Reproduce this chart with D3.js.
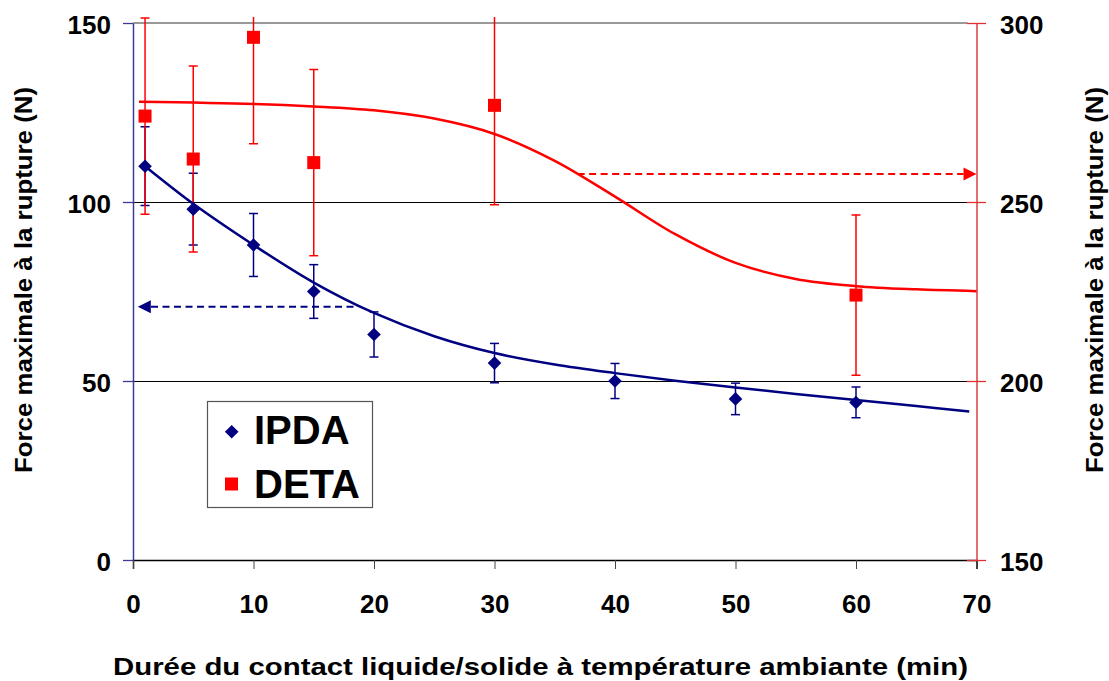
<!DOCTYPE html>
<html>
<head>
<meta charset="utf-8">
<script src="https://cdn.jsdelivr.net/npm/d3@7"></script>
<style>
  html, body { margin: 0; padding: 0; background: #fff; }
  svg { display: block; }
  text { font-family: "Liberation Sans", Arial, Helvetica, sans-serif; font-weight: bold; fill: #000; }
</style>
</head>
<body>
<div id="chart"></div>
<script>
// ---------- data ----------
const xTicks = [0, 10, 20, 30, 40, 50, 60, 70];
const leftTicks = [0, 50, 100, 150];
const rightTicks = [150, 200, 250, 300];

const ipdaX = [1, 5, 10, 15, 20, 30, 40, 50, 60];
const ipdaY = [110, 98, 88, 75, 63, 55, 50, 45, 44];
const ipdaErr = [11, 10, 8.8, 7.5, 6.3, 5.5, 4.9, 4.4, 4.3];

const detaX = [1, 5, 10, 15, 30, 60];
const detaY = [274, 262, 296, 261, 277, 224];
const detaErr = [27.4, 26, 29.7, 26, 27.8, 22.4];

// trend curves
const ipdaTrendX = [1, 5, 10, 15, 20, 25, 30, 35, 40, 45, 50, 55, 60, 65, 69.4];
const ipdaTrendY = [110, 99.5, 88, 77.5, 69, 62.5, 57.8, 54.6, 52.2, 50.1, 48.2, 46.4, 44.7, 43, 41.5];
const detaTrendX = [0.5, 10, 15, 20, 25, 30, 35, 40, 45, 50, 55, 60, 65, 70];
const detaTrendY = [278, 277.4, 276.7, 275.6, 273.3, 269, 261.5, 251.5, 241, 233, 228.5, 226.5, 225.6, 225.1];

// dashed arrows [x start, x tip], value
const ipdaArrowX = [18.3, 0.4];
const ipdaArrowY = 70.75;
const detaArrowX = [36.9, 70];
const detaArrowY = 257.8;

const seriesNames = ["IPDA", "DETA"];
const xTitle = "Durée du contact liquide/solide à température ambiante (min)";
const yTitle = "Force maximale à la rupture (N)";

// ---------- layout ----------
const W = 1109, H = 681;
const X0 = 133, X1 = 976.5, YT = 23, YB = 560;
const navy = "#000080", red = "#ff0000";

const svg = d3.select("#chart").append("svg").attr("width", W).attr("height", H);

const x = d3.scaleLinear().domain([0, 70]).range([X0, X1]);
const yL = d3.scaleLinear().domain([0, 150]).range([YB, YT]);
const yR = d3.scaleLinear().domain([150, 300]).range([YB, YT]);

svg.append("defs").append("clipPath").attr("id", "clip")
  .append("rect").attr("x", X0 - 10).attr("y", 17).attr("width", X1 - X0 + 20).attr("height", YB - 17 + 10);

// gridlines
const grid = svg.append("g");
grid.selectAll("line").data(leftTicks.filter(d => d > 0 && d < 150)).join("line")
  .attr("x1", X0).attr("x2", X1).attr("y1", d => yL(d) + 0.5).attr("y2", d => yL(d) + 0.5)
  .attr("stroke", "#000").attr("stroke-width", 1).attr("shape-rendering", "crispEdges");
grid.append("line").attr("x1", X0).attr("x2", X1 - 9).attr("y1", yL(150)).attr("y2", yL(150))
  .attr("stroke", "#999").attr("stroke-width", 2);

// x axis
const xAxis = svg.append("g").attr("transform", `translate(0,${YB})`)
  .call(d3.axisBottom(x).tickValues(xTicks).tickSize(9).tickFormat(d3.format("d")));
xAxis.select(".domain").attr("stroke", "#000").attr("stroke-width", 1.5);
xAxis.selectAll(".tick line").attr("stroke", "#444").attr("stroke-width", 1);
xAxis.selectAll(".tick text").attr("font-size", 26).attr("font-family", null).attr("y", 0).attr("dy", null)
  .attr("transform", "translate(0,53)");

// left axis
const lAxis = svg.append("g").attr("transform", `translate(${X0},0)`)
  .call(d3.axisLeft(yL).tickValues(leftTicks).tickSize(10).tickSizeOuter(0).tickFormat(d3.format("d")));
lAxis.select(".domain").attr("stroke", "#3c3c96").attr("stroke-width", 1.5);
lAxis.selectAll(".tick line").attr("stroke", "#3c3c96").attr("stroke-width", 1.3);
lAxis.selectAll(".tick text").attr("font-size", 26).attr("font-family", null)
  .attr("x", -22).attr("dy", "0.40em");

// right axis (ticks cross)
const rAxis = svg.append("g").attr("transform", `translate(${X1},0)`)
  .call(d3.axisRight(yR).tickValues(rightTicks).tickSize(9.5).tickSizeOuter(0).tickFormat(d3.format("d")));
rAxis.select(".domain").attr("stroke", "#d84040").attr("stroke-width", 1.5);
rAxis.selectAll(".tick line").attr("x1", -9.5).attr("stroke", "#e03030").attr("stroke-width", 1.3);
rAxis.selectAll(".tick text").attr("font-size", 26).attr("font-family", null)
  .attr("x", 23.5).attr("dy", "0.40em");
svg.selectAll(".domain").attr("fill", "none");

// plot content
const plot = svg.append("g").attr("clip-path", "url(#clip)");

const ipda = ipdaX.map((d, i) => ({ x: d, y: ipdaY[i], e: ipdaErr[i] }));
const deta = detaX.map((d, i) => ({ x: d, y: detaY[i], e: detaErr[i] }));

function errorBars(g, data, ys, color, cap) {
  g.selectAll(null).data(data).join("line")
    .attr("x1", d => x(d.x)).attr("x2", d => x(d.x))
    .attr("y1", d => ys(d.y + d.e)).attr("y2", d => ys(d.y - d.e))
    .attr("stroke", color).attr("stroke-width", 1.5);
  [1, -1].forEach(s => {
    g.selectAll(null).data(data).join("line")
      .attr("x1", d => x(d.x) - cap).attr("x2", d => x(d.x) + cap)
      .attr("y1", d => ys(d.y + s * d.e)).attr("y2", d => ys(d.y + s * d.e))
      .attr("stroke", color).attr("stroke-width", 1.5);
  });
}
errorBars(plot.append("g"), ipda, yL, navy, 4.5);
errorBars(plot.append("g"), deta, yR, red, 4.5);

// trend lines
const line = d3.line().curve(d3.curveCatmullRom.alpha(0.5));
plot.append("path")
  .attr("d", line(ipdaTrendX.map((d, i) => [x(d), yL(ipdaTrendY[i])])))
  .attr("fill", "none").attr("stroke", navy).attr("stroke-width", 2.5);
plot.append("path")
  .attr("d", line(detaTrendX.map((d, i) => [x(d), yR(detaTrendY[i])])))
  .attr("fill", "none").attr("stroke", red).attr("stroke-width", 2.5);

// dashed arrows
function arrow(xs, yv, ys, color) {
  const xa = x(xs[0]), xb = x(xs[1]), yy = ys(yv);
  const dir = Math.sign(xb - xa);
  const headLen = 13, half = 6.5;
  plot.append("line").attr("x1", xa).attr("x2", xb - dir * headLen).attr("y1", yy).attr("y2", yy)
    .attr("stroke", color).attr("stroke-width", 2).attr("stroke-dasharray", "7,4.5");
  plot.append("path")
    .attr("d", `M${xb},${yy}L${xb - dir * headLen},${yy - half}L${xb - dir * headLen},${yy + half}Z`)
    .attr("fill", color);
}
arrow(ipdaArrowX, ipdaArrowY, yL, navy);
arrow(detaArrowX, detaArrowY, yR, red);

// markers
const diamond = s => `M0,${-s}L${s},0L0,${s}L${-s},0Z`;
plot.append("g").selectAll("path").data(ipda).join("path")
  .attr("transform", d => `translate(${x(d.x)},${yL(d.y)})`)
  .attr("d", diamond(6.8)).attr("fill", navy);
plot.append("g").selectAll("rect").data(deta).join("rect")
  .attr("x", d => x(d.x) - 6.5).attr("y", d => yR(d.y) - 6.5)
  .attr("width", 13).attr("height", 13).attr("fill", red);

// legend
const lg = svg.append("g");
lg.append("rect").attr("x", 207.5).attr("y", 401.5).attr("width", 165).attr("height", 106)
  .attr("fill", "#fff").attr("stroke", "#555").attr("stroke-width", 1.2);
lg.append("path").attr("transform", "translate(231.7,431.7)").attr("d", diamond(6.8)).attr("fill", navy);
lg.append("rect").attr("x", 225).attr("y", 477.5).attr("width", 13).attr("height", 13).attr("fill", red);
lg.append("text").attr("x", 254).attr("y", 444).attr("font-size", 40).text(seriesNames[0]);
lg.append("text").attr("x", 254).attr("y", 498).attr("font-size", 40).text(seriesNames[1]);

// titles
svg.append("text").attr("x", 540.5).attr("y", 675).attr("text-anchor", "middle")
  .attr("font-size", 24).attr("textLength", 855).attr("lengthAdjust", "spacingAndGlyphs").text(xTitle);
svg.append("text").attr("transform", "translate(32,280) rotate(-90)").attr("text-anchor", "middle")
  .attr("font-size", 24).attr("textLength", 386).attr("lengthAdjust", "spacingAndGlyphs").text(yTitle);
svg.append("text").attr("transform", "translate(1103,280) rotate(-90)").attr("text-anchor", "middle")
  .attr("font-size", 24).attr("textLength", 386).attr("lengthAdjust", "spacingAndGlyphs").text(yTitle);
</script>
</body>
</html>
